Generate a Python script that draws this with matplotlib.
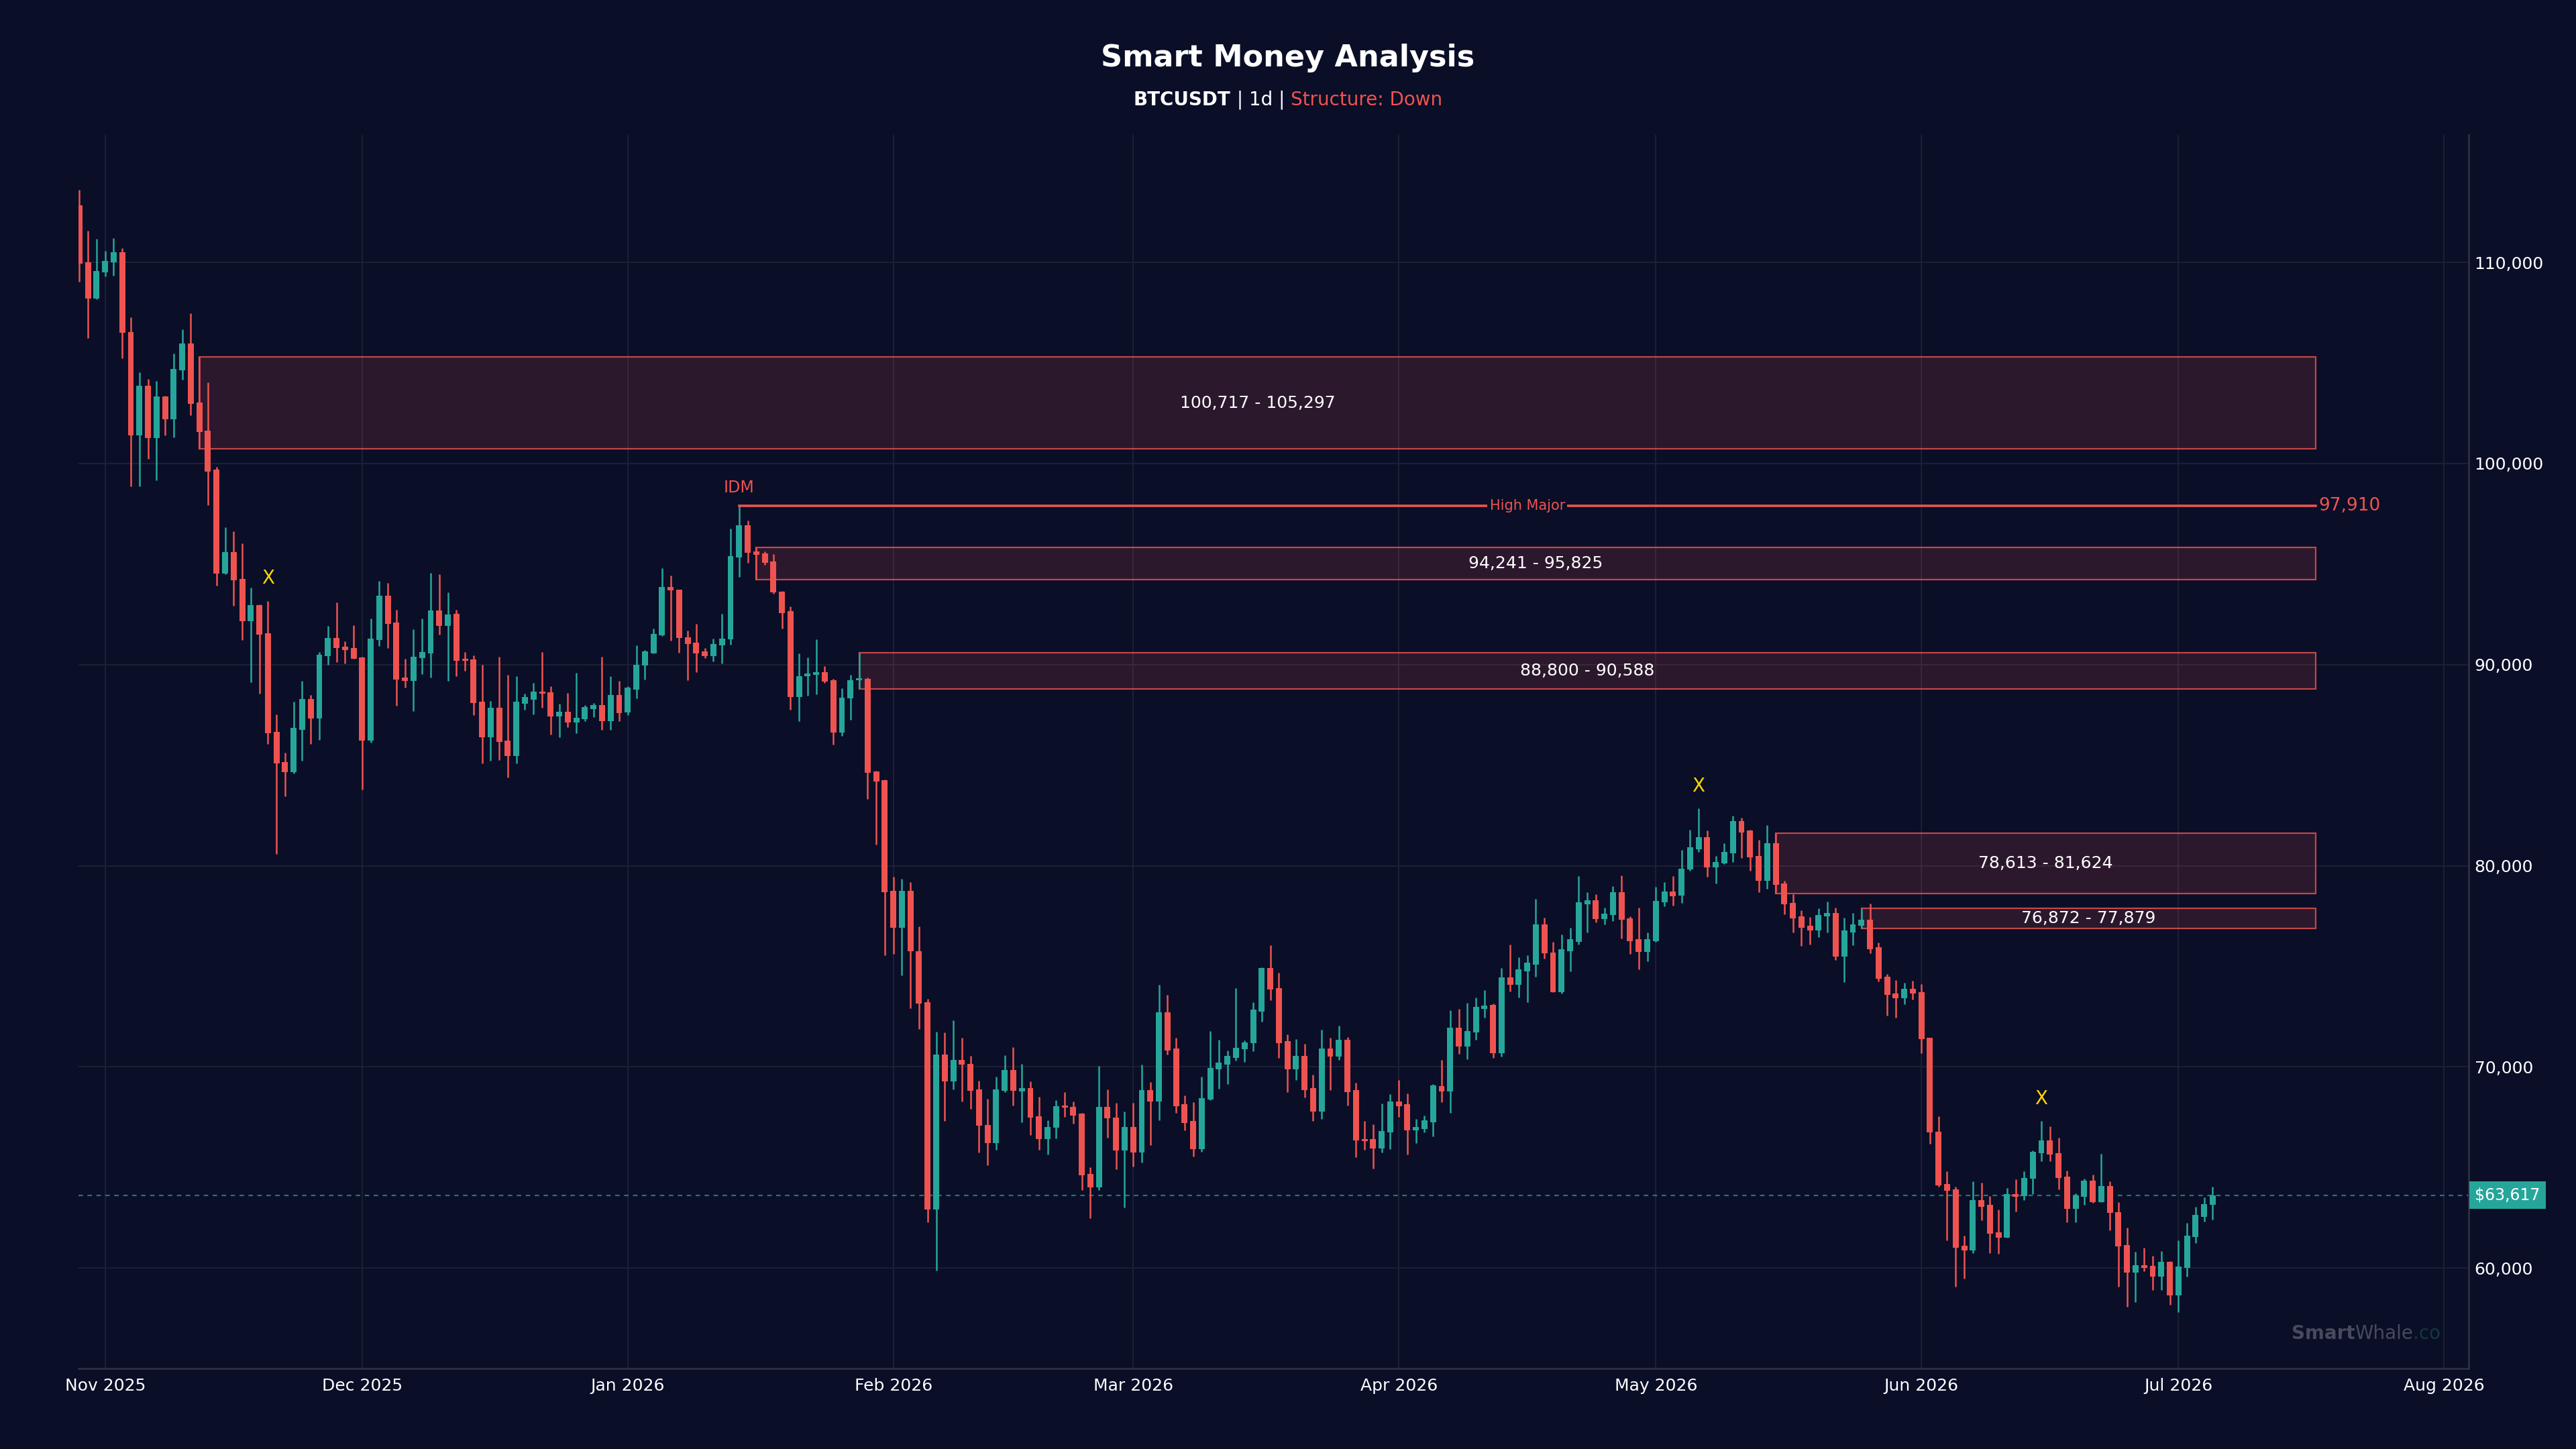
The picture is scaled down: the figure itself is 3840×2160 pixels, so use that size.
import numpy as np
import pandas as pd
import matplotlib
matplotlib.use('Agg')
import matplotlib.pyplot as plt
import matplotlib.dates as mdates
from matplotlib.patches import Rectangle
from matplotlib.ticker import FuncFormatter
from matplotlib.transforms import blended_transform_factory

# daily BTCUSDT candles
start_date = '2025-10-29'

opens = [112841, 110022, 108221, 109523, 110000, 110499, 106551, 101389, 103862, 101281,
         103341, 102213, 104643, 105987, 103038, 101628, 99697, 94513, 95598, 94275,
         92149, 92952, 91563, 86662, 85143, 84644, 86770, 88288, 87312, 90414,
         91325, 90891, 90826, 90370, 86206, 91216, 93429, 92084, 89351, 89178,
         90327, 90566, 92691, 91932, 92518, 90284, 90262, 88158, 86380, 87855,
         86228, 85447, 88050, 88267, 88657, 88614, 87421, 87659, 87139, 87291,
         87789, 87985, 87182, 88505, 87614, 88755, 89948, 90571, 91453, 93865,
         93735, 91375, 91089, 90674, 90441, 90960, 91245, 95344, 96926, 95629,
         95525, 95136, 93632, 92646, 88392, 89429, 89481, 89637, 89222, 86628,
         88314, 89222, 89300, 84682, 84267, 78742, 76926, 78742, 75759, 73217,
         62919, 70597, 69274, 70337, 70156, 68859, 67121, 66213, 68807, 69845,
         68781, 68937, 67536, 66421, 66965, 68081, 68003, 67666, 64657, 64008,
         68003, 67484, 65850, 66991, 65726, 68855, 68259, 72714, 70911, 68140,
         67290, 65919, 68363, 69868, 70121, 70449, 70866, 71164, 72759, 74919,
         73921, 71269, 69868, 70538, 68929, 67782, 70926, 70494, 71358, 68840,
         66411, 66396, 65949, 66739, 68289, 68154, 66843, 66918, 67246, 69048,
         68780, 71939, 71015, 71716, 72878, 73071, 70673, 74442, 74070, 74740,
         75068, 77094, 75694, 73697, 75753, 76230, 78093, 78272, 77363, 77556,
         78674, 77392, 76349, 75709, 76260, 78167, 78704, 78500, 79801, 80813,
         81428, 79928, 80126, 80614, 82205, 81753, 80488, 79259, 81102, 79115,
         78139, 77488, 77018, 76765, 77488, 77633, 75464, 76693, 77000, 77326,
         75934, 74471, 73639, 73404, 73892, 73712, 71435, 66773, 64171, 63918,
         61099, 60864, 63358, 63123, 61767, 61496, 63665, 63574, 64442, 65707,
         66339, 65707, 64532, 62942, 63538, 64351, 63267, 64080, 62779, 61135,
         59780, 60141, 60105, 59563, 60286, 58623, 60015, 61551, 62544, 63123]

highs = [113601, 111583, 111171, 110564, 111215, 110716, 107267, 104534, 104209, 104100,
         103385, 105467, 106660, 107484, 105297, 104035, 99849, 96834, 96639, 96032,
         93819, 92995, 93169, 87507, 85620, 88158, 89199, 88505, 90609, 91932,
         93103, 91173, 91976, 90392, 92279, 94166, 94058, 92713, 90284, 91759,
         92301, 94578, 94492, 93581, 92735, 90631, 90457, 90002, 88180, 90392,
         89481, 89416, 88549, 89091, 90609, 88939, 88050, 88592, 89590, 88006,
         88093, 90392, 89416, 89199, 88911, 90960, 90726, 91790, 94799, 94436,
         93735, 91686, 92023, 90830, 91297, 92516, 96770, 97910, 97159, 95825,
         95629, 95499, 93658, 92879, 90571, 90363, 91245, 89922, 89300, 88833,
         89507, 90588, 89352, 84734, 84293, 79442, 79338, 79183, 76978, 73372,
         71738, 71712, 72309, 71453, 70545, 69300, 68418, 69507, 70571, 70986,
         70156, 69274, 68496, 67328, 68340, 68729, 68262, 67692, 65020, 70026,
         68859, 68210, 67769, 68210, 70121, 69257, 74070, 73578, 71432, 68572,
         68229, 69525, 71790, 71343, 70807, 73921, 71313, 73220, 74934, 76037,
         74681, 71611, 71388, 71134, 69600, 71835, 71432, 72058, 71462, 69197,
         67320, 67141, 68184, 68631, 69346, 68676, 67395, 67588, 69153, 70345,
         72803, 72878, 73176, 73444, 73816, 73146, 74919, 76066, 75455, 75530,
         78346, 77422, 76230, 76588, 76931, 79478, 78674, 78584, 77899, 78987,
         79508, 77497, 77914, 76677, 78942, 79195, 79478, 80795, 81789, 82855,
         81735, 80488, 81102, 82476, 82385, 81789, 81301, 82024, 81624, 79241,
         78591, 77795, 77434, 77868, 78229, 77904, 77416, 77633, 77879, 78103,
         76187, 74597, 74326, 74163, 74290, 74109, 71453, 67550, 64803, 64026,
         61587, 64297, 64225, 63574, 62906, 63954, 64406, 64803, 65851, 67297,
         67026, 66484, 64839, 63719, 64442, 64622, 65670, 64315, 63267, 62002,
         60792, 61008, 60611, 60828, 60340, 61370, 62237, 63032, 63502, 64044]

lows = [109046, 106226, 108178, 109306, 109328, 105250, 98851, 98873, 100218, 99177,
        101389, 101302, 104165, 102408, 100717, 97940, 93928, 94491, 92930, 91216,
        89113, 88549, 86054, 80588, 83451, 84601, 85208, 86054, 86249, 90002,
        90132, 90067, 90284, 83777, 86119, 90934, 90826, 87963, 88852, 87681,
        89525, 89373, 91498, 89199, 89416, 89698, 87486, 85078, 85208, 85252,
        84384, 85078, 87746, 87529, 87855, 86531, 86380, 86878, 86596, 87204,
        87377, 86748, 86770, 87204, 87484, 88340, 89248, 90571, 91427, 91193,
        90597, 89222, 89637, 90337, 90156, 90052, 90986, 94358, 95058, 94241,
        94955, 93528, 91790, 87769, 87198, 88444, 88521, 89092, 86005, 86446,
        87250, 88800, 83333, 81051, 75551, 75629, 74540, 72906, 71868, 62270,
        59858, 67302, 68885, 68288, 67899, 65746, 65098, 65876, 68729, 68081,
        67251, 66602, 65876, 65642, 66446, 67510, 67173, 63878, 62478, 63878,
        66472, 64916, 62996, 65046, 65234, 66098, 67335, 70598, 67707, 66843,
        65547, 65756, 68333, 68899, 69153, 70315, 70240, 70792, 72237, 73325,
        70449, 68736, 69332, 68482, 67290, 67395, 68855, 70345, 68080, 65502,
        65875, 64936, 65726, 65919, 67514, 65651, 66217, 66724, 66545, 68229,
        67707, 70643, 70389, 71358, 72431, 70449, 70494, 73742, 73444, 73220,
        74472, 75366, 73697, 73653, 74740, 76066, 76677, 77184, 77065, 77243,
        76379, 75604, 74845, 75247, 76230, 77974, 78018, 78139, 79747, 80669,
        79440, 79115, 80072, 80199, 80379, 79765, 78699, 78844, 78613, 77579,
        76675, 76007, 76097, 76458, 76675, 75320, 74200, 76043, 76872, 75645,
        74236, 72537, 72429, 73115, 73332, 70676, 66158, 64044, 61370, 59075,
        59472, 60737, 62364, 60737, 60701, 61496, 62815, 63358, 63665, 65309,
        65309, 63900, 62273, 62273, 63141, 63231, 63267, 61876, 59075, 58081,
        58298, 59834, 58894, 58894, 58171, 57792, 59563, 61225, 62309, 62418]

closes = [109957, 108221, 109588, 110087, 110499, 106508, 101389, 103862, 101281, 103341,
          102213, 104708, 105987, 102972, 101563, 99610, 94513, 95598, 94188, 92149,
          92952, 91477, 86575, 85078, 84644, 86857, 88288, 87312, 90479, 91325,
          90826, 90739, 90284, 86206, 91282, 93429, 92019, 89243, 89178, 90392,
          90631, 92691, 91932, 92496, 90197, 90197, 88093, 86380, 87855, 86163,
          85447, 88158, 88375, 88657, 88549, 87421, 87659, 87139, 87356, 87876,
          87985, 87182, 88505, 87573, 88859, 90000, 90649, 91530, 93865, 93683,
          91323, 91038, 90571, 90441, 91012, 91297, 95396, 96926, 95551, 95473,
          95058, 93580, 92568, 88392, 89429, 89559, 89637, 89170, 86628, 88366,
          89222, 89326, 84604, 84189, 78690, 76926, 78742, 75733, 73139, 62919,
          70597, 69274, 70337, 70104, 68807, 67069, 66213, 68859, 69845, 68807,
          68937, 67458, 66421, 67017, 68055, 67977, 67588, 64605, 64008, 68003,
          67432, 65850, 66991, 65746, 68855, 68259, 72714, 70822, 68050, 67216,
          65919, 68452, 69957, 70211, 70538, 70956, 71224, 72833, 74919, 73846,
          71164, 69868, 70538, 68855, 67782, 70926, 70494, 71358, 68750, 66337,
          66307, 65949, 66813, 68289, 68050, 66843, 66992, 67335, 69078, 68780,
          71939, 71015, 71790, 72982, 73057, 70673, 74442, 74070, 74845, 75172,
          77094, 75634, 73697, 75843, 76349, 78197, 78272, 77363, 77631, 78674,
          77303, 76260, 75709, 76349, 78242, 78704, 78495, 79855, 80904, 81428,
          79928, 80199, 80669, 82205, 81662, 80416, 79259, 81102, 79042, 78085,
          77398, 76910, 76765, 77542, 77633, 75464, 76765, 77073, 77326, 75862,
          74380, 73585, 73404, 73892, 73657, 71363, 66737, 64116, 63845, 61008,
          60864, 63358, 63050, 61695, 61496, 63665, 63538, 64478, 65761, 66339,
          65652, 64478, 62942, 63592, 64351, 63267, 64080, 62725, 61063, 59780,
          60141, 59997, 59563, 60286, 58623, 60069, 61605, 62635, 63177, 63617]

# smart money annotations (candle positions)
ob_idx = [14, 79, 91, 198, 208]      # order block candles
high_major_idx = 77                  # IDM / high major candle
swing_x_idx = [22, 189, 229]         # yellow X markers
zone_extend_days = 12

BG = '#0a0e27'
GREEN = '#26a69a'
RED = '#ef5350'
GRID = '#1d2135'
SPINE = '#2c3042'

o = np.array(opens, dtype=float)
h = np.array(highs, dtype=float)
l = np.array(lows, dtype=float)
c = np.array(closes, dtype=float)
dates = pd.date_range(start_date, periods=len(o), freq='D')
x = mdates.date2num(dates.to_pydatetime())
colors = np.where(c >= o, GREEN, RED)

fig = plt.figure(figsize=(19.2, 10.8), dpi=200, facecolor=BG)
ax = fig.add_axes([0.0305, 0.0556, 0.9279, 0.8514])
ax.set_facecolor(BG)

# candles
ax.vlines(x, l, h, colors=colors, lw=0.9, zorder=3)
body = np.maximum(np.abs(c - o), 80)
ax.bar(x, body, bottom=np.minimum(o, c), width=0.7, color=colors,
       linewidth=0, zorder=4)

x_end = x[-1] + zone_extend_days

# order block zones
for i in ob_idx:
    lo, hi = l[i], h[i]
    rect = Rectangle((x[i], lo), x_end - x[i], hi - lo,
                     facecolor=(239/255, 83/255, 80/255, 0.15),
                     edgecolor=(239/255, 83/255, 80/255, 0.8),
                     lw=0.8, zorder=2)
    ax.add_patch(rect)
    ax.text((x[i] + x_end) / 2, (lo + hi) / 2, f'{lo:,.0f} - {hi:,.0f}',
            color='white', fontsize=9, ha='center', va='center', zorder=5)

# high major line with IDM
hm = h[high_major_idx]
ax.plot([x[high_major_idx], x_end], [hm, hm], color=RED, lw=1.3, zorder=3)
ax.text((x[high_major_idx] + x_end) / 2, hm, 'High Major', color=RED,
        fontsize=7.5, ha='center', va='center', zorder=5,
        bbox=dict(boxstyle='square,pad=0.15', fc=BG, ec='none'))
ax.text(x_end + 0.4, hm, f'{hm:,.0f}', color=RED, fontsize=9.5,
        ha='left', va='center', zorder=5)
ax.annotate('IDM', (x[high_major_idx], hm), xytext=(0, 9.5),
            textcoords='offset points', color=RED, fontsize=8.5,
            ha='center', va='center', zorder=5)

# swing markers
for i in swing_x_idx:
    ax.annotate('X', (x[i], h[i]), xytext=(0, 12), textcoords='offset points',
                color='#ffd700', fontsize=10, ha='center', va='center', zorder=5)

# current price
last = c[-1]
ax.axhline(last, color=GREEN, lw=0.8, ls=(0, (3, 3)), alpha=0.7, zorder=2)
trans = blended_transform_factory(ax.transAxes, ax.transData)
ax.annotate(f'${last:,.0f}', (1.0, last), xycoords=trans, xytext=(3.2, 0),
            textcoords='offset points', color='white', fontsize=8.5,
            ha='left', va='center', zorder=6, annotation_clip=False,
            bbox=dict(boxstyle='square,pad=0.35', fc=GREEN, ec='none'))

ax.set_xlim(x[0] - 0.1, x[0] + 278.9)
ax.set_ylim(55000, 116350)

ax.yaxis.tick_right()
ax.yaxis.set_major_formatter(FuncFormatter(lambda v, p: f'{v:,.0f}'))
ax.xaxis.set_major_locator(mdates.MonthLocator())
ax.xaxis.set_major_formatter(mdates.DateFormatter('%b %Y'))
ax.tick_params(colors='white', labelsize=9, length=0)
ax.tick_params(axis='y', pad=3)
ax.tick_params(axis='x', pad=5)
ax.grid(True, color=GRID, lw=0.7)
ax.set_axisbelow(True)
for side in ['top', 'left']:
    ax.spines[side].set_visible(False)
for side in ['bottom', 'right']:
    ax.spines[side].set_color(SPINE)
    ax.spines[side].set_linewidth(1.0)


def multi_text(fig, xf, yf, parts, ha='center'):
    renderer = fig.canvas.get_renderer()
    texts, widths = [], []
    for s, kw in parts:
        t = fig.text(0, yf, s, va='center', ha='left', **kw)
        widths.append(t.get_window_extent(renderer).width)
        texts.append(t)
    figw = fig.get_figwidth() * fig.dpi
    total = sum(widths)
    pos = xf * figw - (total / 2 if ha == 'center' else total)
    for t, w in zip(texts, widths):
        t.set_x(pos / figw)
        pos += w


fig.text(0.5, 0.960, 'Smart Money Analysis', color='white', fontsize=16,
         fontweight='bold', ha='center', va='center')
multi_text(fig, 0.5, 0.931, [
    ('BTCUSDT', dict(color='white', fontsize=10, fontweight='bold')),
    (' | 1d | ', dict(color='white', fontsize=10)),
    ('Structure: Down', dict(color=RED, fontsize=10)),
])

# watermark
multi_text(fig, 0.9474, 0.0795, [
    ('Smart', dict(color='#464a5c', fontsize=10, fontweight='bold')),
    ('Whale', dict(color='#464a5c', fontsize=10)),
    ('.co', dict(color='#103a3e', fontsize=10)),
], ha='right')

fig.savefig('out.png', dpi=200, facecolor=BG)
